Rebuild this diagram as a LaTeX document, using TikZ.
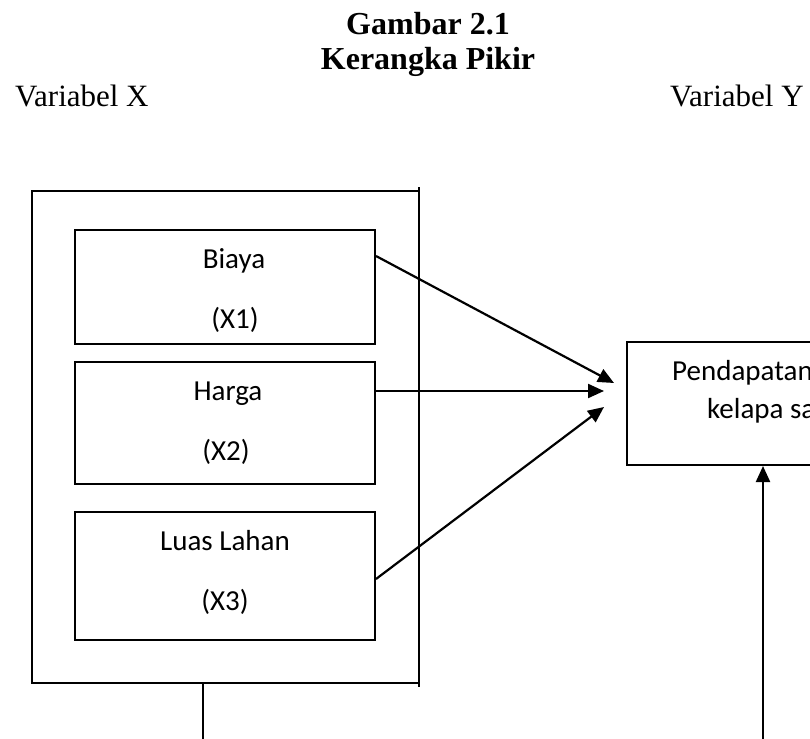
\documentclass[tikz,border=0pt]{standalone}
\usepackage{fontspec}
\setmainfont{Liberation Serif}
\newfontfamily\calfont{Carlito}
\usetikzlibrary{arrows.meta}
\tikzset{
  x=1pt, y=-1pt,
  box/.style={draw, line width=2pt, rectangle, inner sep=0pt},
  lbl/.style={font=\calfont\fontsize{29}{34}\selectfont, anchor=base, inner sep=0pt},
  hdr/.style={font=\fontsize{31}{37}\selectfont, anchor=base west, inner sep=0pt},
  ttl/.style={font=\bfseries\fontsize{32}{38}\selectfont, anchor=base, inner sep=0pt},
  arr/.style={line width=2.2pt, -{Triangle[length=16pt,width=14pt]}},
  ln/.style={line width=2pt}
}
\begin{document}
\begin{tikzpicture}
\useasboundingbox (0,0) rectangle (810,738);
\clip (0,0) rectangle (810,738);
% titles
\node[ttl] (t1) at (428,35) {Gambar 2.1};
\node[ttl] (t2) at (428,70) {Kerangka Pikir};
\node[hdr] (vx) at (15,107) {Variabel X};
\node[hdr] (vy) at (670,107) {Variabel Y};
% outer box
\node[box, minimum width=387pt, minimum height=492pt] (outer) at (225.5,437) {};
\coordinate (rtop) at (419,187);
\coordinate (rbot) at (419,687);
\draw[ln] (rtop) -- (rbot);
% inner boxes
\node[box, minimum width=300pt, minimum height=114pt] (b1) at (225,287) {};
\node[box, minimum width=300pt, minimum height=122pt] (b2) at (225,423) {};
\node[box, minimum width=300pt, minimum height=128pt] (b3) at (225,576) {};
\node[lbl] (l1a) at (234,268) {Biaya};
\node[lbl] (l1b) at (235,328) {(X1)};
\node[lbl] (l2a) at (228,400) {Harga};
\node[lbl] (l2b) at (226,460) {(X2)};
\node[lbl] (l3a) at (225,550) {Luas Lahan};
\node[lbl] (l3b) at (225,610) {(X3)};
% Y box
\node[box, minimum width=233pt, minimum height=123pt] (ybox) at (743.5,403.5) {};
\node[lbl, anchor=base west] (y1) at (672,380) {Pendapatan};
\node[lbl, anchor=base west] (y2) at (707,418) {kelapa sa};
% arrow tips
\coordinate (tip1) at (614,383);
\coordinate (tip2) at (604,391);
\coordinate (tip3) at (604,407);
\draw[arr] ([yshift=31pt]b1.east) -- (tip1);
\draw[arr] ([yshift=32pt]b2.east) -- (tip2);
\draw[arr] ([yshift=-3pt]b3.east) -- (tip3);
% bottom lines
\coordinate (bot1) at (203,745);
\coordinate (bot2) at (763,745);
\draw[ln] ([xshift=-22.5pt]outer.south) -- (bot1);
\draw[arr] (bot2) -- (ybox.south -| bot2);
\end{tikzpicture}
\end{document}
